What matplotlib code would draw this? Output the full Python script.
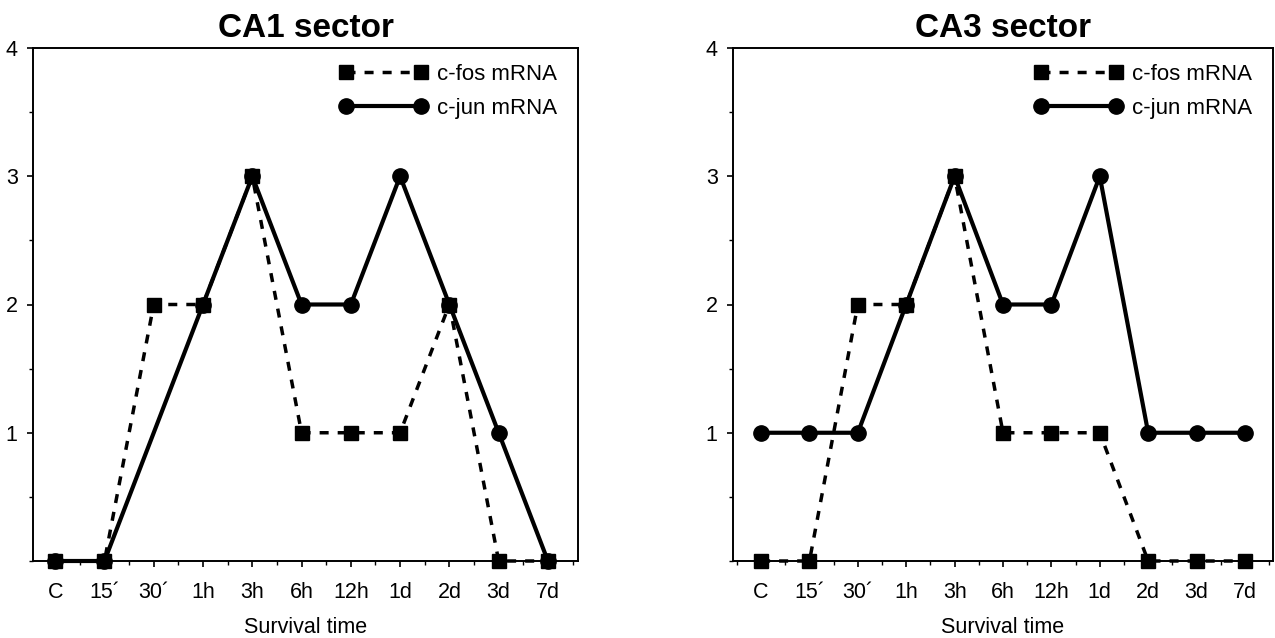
import numpy as np
import matplotlib
matplotlib.use('Agg')
import matplotlib.pyplot as plt
from matplotlib.ticker import MultipleLocator

plt.rcParams['font.family'] = ['Liberation Sans', 'DejaVu Sans']

# survival time after ischemia
times = ['C', '15\u00b4', '30\u00b4', '1h', '3h', '6h', '12h', '1d', '2d', '3d', '7d']

# semi-quantitative expression scores (nan = no measurement drawn)
ca1_fos = [0, 0, 2, 2, 3, 1, 1, 1, 2, 0, 0]
ca1_jun = [0, 0, np.nan, 2, 3, 2, 2, 3, 2, 1, 0]
ca3_fos = [0, 0, 2, 2, 3, 1, 1, 1, 0, 0, 0]
ca3_jun = [1, 1, 1, 2, 3, 2, 2, 3, 1, 1, 1]

W, H = 1275, 638


def draw_panel(ax, title, fos, jun, xlim):
    x = np.arange(len(times))
    fos = np.asarray(fos, dtype=float)
    jun = np.asarray(jun, dtype=float)
    mf = ~np.isnan(fos)
    mj = ~np.isnan(jun)

    ax.plot(x[mf], fos[mf], color='black', lw=2.5, ls=(0, (2.6, 2.6)),
            marker='s', ms=10.5, label='c-fos mRNA', zorder=3, clip_on=False)
    ax.plot(x[mj], jun[mj], color='black', lw=3.0, ls='-',
            marker='o', ms=11, label='c-jun mRNA', zorder=4, clip_on=False)

    ax.set_xlim(*xlim)
    ax.set_ylim(0, 4)
    ax.set_xticks(x)
    ax.set_xticklabels(times, fontsize=15.5)
    ax.xaxis.set_minor_locator(MultipleLocator(0.5))
    ax.set_yticks([1, 2, 3, 4])
    ax.set_yticklabels(['1', '2', '3', '4'], fontsize=15.5)
    ax.yaxis.set_minor_locator(MultipleLocator(0.5))
    ax.tick_params(axis='both', which='major', direction='out', length=4,
                   width=1.2)
    ax.tick_params(axis='both', which='minor', direction='out', length=3,
                   width=1.0)
    ax.tick_params(axis='x', which='major', pad=11)
    ax.tick_params(axis='y', which='major', pad=7)
    for sp in ax.spines.values():
        sp.set_linewidth(1.4)

    ax.set_title(title, fontsize=24, fontweight='bold', pad=8)
    ax.set_xlabel('Survival time', fontsize=15.5, labelpad=10)

    ax.legend(loc='upper right', frameon=False, fontsize=16,
              numpoints=2, handlelength=4.0, handletextpad=0.4,
              labelspacing=0.6, borderaxespad=0.3, bbox_to_anchor=(0.99, 1.0))


fig = plt.figure(figsize=(W / 100, H / 100), dpi=100)
ax1 = fig.add_axes([33 / W, (H - 561) / H, 545 / W, 513 / H])
ax2 = fig.add_axes([733 / W, (H - 561) / H, 540 / W, 513 / H])

draw_panel(ax1, 'CA1 sector', ca1_fos, ca1_jun, (-0.45, 10.61))
draw_panel(ax2, 'CA3 sector', ca3_fos, ca3_jun, (-0.58, 10.58))

fig.savefig('out.png', dpi=100)
